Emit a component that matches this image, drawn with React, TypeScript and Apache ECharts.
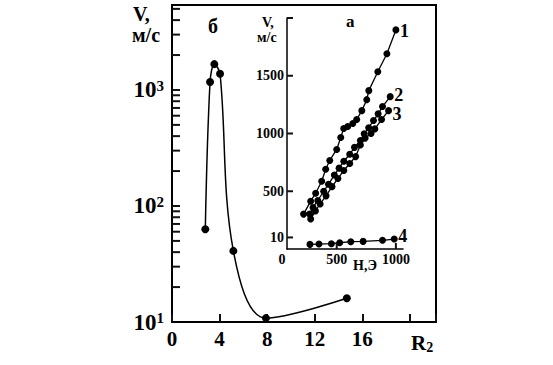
import React, { useEffect, useRef } from "react";
import * as echarts from "echarts";

// Main chart (б): V (m/s, log) vs R2
const r2Values = [2.8, 3.2, 3.56, 4.04, 5.16, 7.9, 14.7];
const vMain = [63, 1170, 1670, 1380, 41, 10.8, 16];
const xTickLabels = ["0", "4", "8", "12", "16"];
const yMinorTicks = [20, 30, 40, 50, 60, 70, 80, 90, 100, 200, 300, 400, 500, 600, 700, 800, 900, 1000, 2000, 3000, 4000, 5000];

// Inset (а): V vs H for curves 1..4
const h1 = [220, 280, 322, 373, 407, 441, 500, 534, 559, 593, 636, 669, 712, 754, 771, 847, 924, 1000];
const v1 = [302, 414, 483, 586, 690, 767, 862, 966, 1043, 1060, 1086, 1121, 1198, 1293, 1371, 1534, 1690, 1897];
const h2 = [271, 300, 340, 390, 430, 480, 520, 560, 610, 650, 700, 732, 770, 811, 850, 887, 952];
const v2 = [302, 360, 420, 500, 560, 640, 700, 760, 820, 880, 940, 997, 1050, 1112, 1170, 1233, 1319];
const h3 = [280, 320, 360, 410, 460, 510, 560, 610, 660, 700, 740, 790, 822, 879, 938];
const v3 = [259, 330, 390, 460, 540, 610, 680, 740, 800, 900, 960, 1000, 1040, 1121, 1198];
const h4 = [274, 350, 455, 525, 619, 723, 887, 986];
const v4 = [40, 43, 46, 54, 63, 66, 75, 86];
const curveNames = ["1", "2", "3", "4"];
const curveLabelOffsets = [[0, 1], [0, -2], [0, 3], [0, -3]];
const insetYTicks = [100, 500, 1000, 1500, 2000];
const insetXTicks = [500, 1000];

const FONT = "'Liberation Serif', 'Times New Roman', serif";
const INK = "#111";

export default function App() {
  const ref = useRef<HTMLDivElement>(null);
  useEffect(() => {
    if (!ref.current) return;
    const chart = echarts.init(ref.current, undefined, { renderer: "svg" });
    const zip = (a: number[], b: number[]) => a.map((x, i) => [x, b[i]]);
    const insetSeries = [
      [h1, v1],
      [h2, v2],
      [h3, v3],
      [h4, v4],
    ].map(([h, v], i) => ({
      type: "line",
      xAxisIndex: 1,
      yAxisIndex: 1,
      data: zip(h, v),
      symbol: "circle",
      symbolSize: 7,
      itemStyle: { color: "#000" },
      lineStyle: { color: "#000", width: 1.3 },
      z: 5,
      endLabel: {
        show: true,
        formatter: curveNames[i],
        distance: 4,
        offset: curveLabelOffsets[i],
        fontFamily: FONT,
        fontWeight: "bold",
        fontSize: 18,
        color: "#000",
      },
    }));
    const tickSeries = (xi: number, data: number[][], dx: number, dy: number, w: number, h: number) => ({
      type: "custom",
      xAxisIndex: xi,
      yAxisIndex: xi,
      clip: false,
      z: 10,
      data,
      renderItem: (params: any, api: any) => {
        const p = api.coord([api.value(0), api.value(1)]);
        return {
          type: "rect",
          shape: { x: p[0] + dx, y: p[1] + dy, width: w, height: h },
          style: { fill: INK },
        };
      },
    });
    chart.setOption({
      animation: false,
      grid: [
        { left: 172, top: 5, width: 264, height: 317, show: true, borderColor: "#000", borderWidth: 2 },
        { left: 287, top: 18, width: 116, height: 231, show: false },
      ],
      xAxis: [
        {
          gridIndex: 0,
          type: "value",
          min: 0,
          max: 22.2,
          interval: 4,
          splitLine: { show: false },
          axisLine: { show: true, lineStyle: { color: "#000", width: 2 } },
          axisTick: { show: true, inside: true, length: 8, lineStyle: { color: INK, width: 2 } },
          axisLabel: {
            margin: 6,
            color: "#000",
            fontFamily: FONT,
            fontWeight: "bold",
            fontSize: 21,
            formatter: (v: number) => (xTickLabels.includes(String(v)) ? String(v) : ""),
          },
        },
        {
          gridIndex: 1,
          type: "value",
          min: 80,
          max: 1060,
          splitLine: { show: false },
          axisLine: { show: true, lineStyle: { color: "#000", width: 1.5 } },
          axisTick: { show: false },
          axisLabel: {
            customValues: [80, 500, 1000],
            margin: 3,
            color: "#000",
            fontFamily: FONT,
            fontWeight: "bold",
            fontSize: 14,
            formatter: (v: number) => (v === 80 ? "{z|0}" : String(v)),
            rich: {
              z: { fontFamily: FONT, fontWeight: "bold", fontSize: 14, color: "#000", padding: [0, 10, 0, 0] },
            },
          },
        },
      ],
      yAxis: [
        {
          gridIndex: 0,
          type: "log",
          logBase: 10,
          min: 10,
          max: 5400,
          splitLine: { show: false },
          axisLine: { show: true, lineStyle: { color: "#000", width: 2 } },
          axisTick: { show: false },
          axisLabel: {
            margin: 8,
            color: "#000",
            fontFamily: FONT,
            fontWeight: "bold",
            formatter: (v: number) => {
              const e = Math.round(Math.log10(v));
              if (e >= 1 && e <= 3 && Math.abs(v - Math.pow(10, e)) < 1e-6 * v) return `{b|10}{s|${e}}`;
              return "";
            },
            rich: {
              b: { fontFamily: FONT, fontWeight: "bold", fontSize: 23, color: "#000" },
              s: { fontFamily: FONT, fontWeight: "bold", fontSize: 15, color: "#000", verticalAlign: "top" },
            },
          },
        },
        {
          gridIndex: 1,
          type: "value",
          min: 0,
          max: 2000,
          splitLine: { show: false },
          axisLine: { show: true, lineStyle: { color: "#000", width: 1.5 } },
          axisTick: { show: false },
          axisLabel: {
            customValues: [100, 500, 1000, 1500],
            margin: 3,
            color: "#000",
            fontFamily: FONT,
            fontWeight: "bold",
            fontSize: 14,
            formatter: (v: number) => (v === 100 ? "10" : String(v)),
          },
        },
      ],
      series: [
        tickSeries(0, yMinorTicks.map((v) => [0, v]), 0, -1, 8, 2),
        tickSeries(1, insetYTicks.map((v) => [80, v]), 0, -1, 6, 2),
        tickSeries(1, insetXTicks.map((v) => [v, 0]), -1, -6, 2, 6),
        {
          type: "line",
          xAxisIndex: 0,
          yAxisIndex: 0,
          data: zip(r2Values, vMain),
          smooth: 0.35,
          symbol: "circle",
          symbolSize: 8,
          itemStyle: { color: "#000" },
          lineStyle: { color: "#000", width: 1.5 },
        },
        ...insetSeries,
      ],
      graphic: [
        { type: "text", left: 133, top: 4, style: { text: "V,", font: `bold 20px ${FONT}`, fill: "#000" } },
        { type: "text", left: 132, top: 25, style: { text: "м/с", font: `bold 20px ${FONT}`, fill: "#000" } },
        { type: "text", left: 208, top: 16, style: { text: "б", font: `bold 20px ${FONT}`, fill: "#000" } },
        {
          type: "text",
          left: 411,
          top: 332,
          style: {
            text: "{r|R}{s|2}",
            rich: {
              r: { font: `bold 21px ${FONT}`, fill: "#000" },
              s: { font: `bold 14px ${FONT}`, fill: "#000", padding: [10, 0, 0, 0] },
            },
          },
        },
        { type: "text", left: 262, top: 15, style: { text: "V,", font: `bold 14px ${FONT}`, fill: "#000" } },
        { type: "text", left: 257, top: 30, style: { text: "м/с", font: `bold 14px ${FONT}`, fill: "#000" } },
        { type: "text", left: 346, top: 13, style: { text: "а", font: `bold 17px ${FONT}`, fill: "#000" } },
        { type: "text", left: 353, top: 258, style: { text: "H,Э", font: `bold 14px ${FONT}`, fill: "#000" } },
      ],
    });
    return () => chart.dispose();
  }, []);
  return <div ref={ref} style={{ position: "absolute", left: 0, top: 0, width: 553, height: 365 }} />;
}
